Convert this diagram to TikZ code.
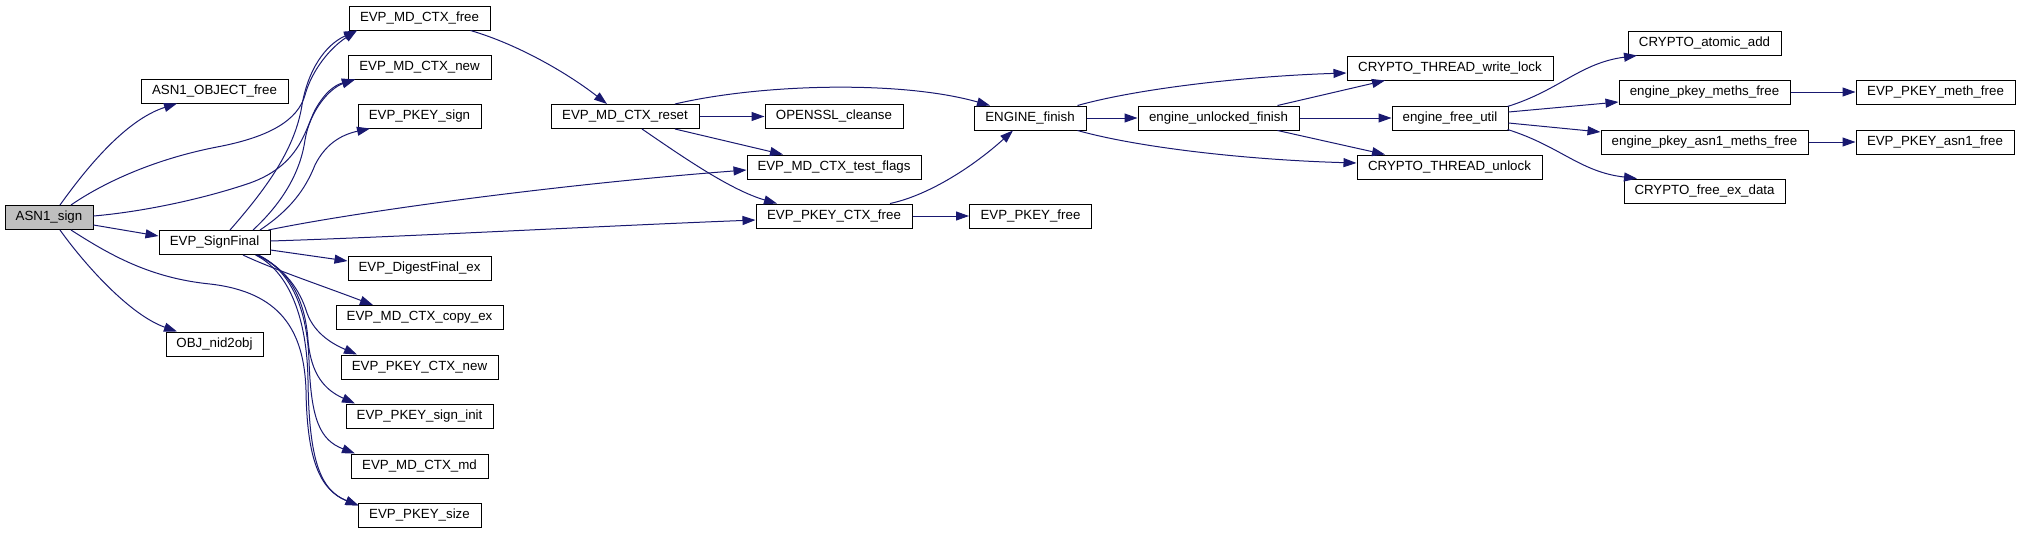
\documentclass[tikz,border=0pt]{standalone}
\usepackage{fontspec}
\setmainfont{Liberation Sans}
\usetikzlibrary{arrows.meta,calc}
\definecolor{edgeblue}{HTML}{191970}
\definecolor{rootgray}{HTML}{BFBFBF}
\begin{document}
\begin{tikzpicture}[x=1pt,y=-1pt,
  fn/.style={draw=black,line width=1pt,fill=white,minimum height=24pt,inner sep=0pt,
    font=\fontsize{13.3}{16}\selectfont},
  call/.style={draw=edgeblue,line width=1pt,-{Triangle[length=13pt,width=9pt]}}]
\useasboundingbox (0,0) rectangle (2020,533);
% nodes
\node[fn,fill=rootgray,minimum width=88pt] (s) at (49,217.5) {ASN1\_sign};
\node[fn,minimum width=147pt] (obj) at (214.5,91) {ASN1\_OBJECT\_free};
\node[fn,minimum width=111pt] (sf) at (214.5,242.5) {EVP\_SignFinal};
\node[fn,minimum width=97pt] (nid) at (214.5,344) {OBJ\_nid2obj};
\node[fn,minimum width=141pt] (mdfree) at (419.5,18) {EVP\_MD\_CTX\_free};
\node[fn,minimum width=143pt] (mdnew) at (419.5,67) {EVP\_MD\_CTX\_new};
\node[fn,minimum width=123pt] (pksign) at (419.5,116) {EVP\_PKEY\_sign};
\node[fn,minimum width=143pt] (dig) at (419.5,268.5) {EVP\_DigestFinal\_ex};
\node[fn,minimum width=167pt] (copy) at (419.5,317.5) {EVP\_MD\_CTX\_copy\_ex};
\node[fn,minimum width=157pt] (pkctxnew) at (419.5,367) {EVP\_PKEY\_CTX\_new};
\node[fn,minimum width=147pt] (init) at (419.5,416) {EVP\_PKEY\_sign\_init};
\node[fn,minimum width=137pt] (md) at (419.5,466) {EVP\_MD\_CTX\_md};
\node[fn,minimum width=123pt] (pksize) at (419.5,515) {EVP\_PKEY\_size};
\node[fn,minimum width=148pt] (reset) at (625,116.5) {EVP\_MD\_CTX\_reset};
\node[fn,minimum width=138pt] (cleanse) at (834,116.5) {OPENSSL\_cleanse};
\node[fn,minimum width=174pt] (tf) at (834,167) {EVP\_MD\_CTX\_test\_flags};
\node[fn,minimum width=156pt] (pkctxfree) at (834,216) {EVP\_PKEY\_CTX\_free};
\node[fn,minimum width=112pt] (ef) at (1030,118) {ENGINE\_finish};
\node[fn,minimum width=122pt] (pkfree) at (1030.5,216) {EVP\_PKEY\_free};
\node[fn,minimum width=161pt] (uf) at (1218.5,118) {engine\_unlocked\_finish};
\node[fn,minimum width=206pt] (wl) at (1450,68) {CRYPTO\_THREAD\_write\_lock};
\node[fn,minimum width=185pt] (ul) at (1449.5,167) {CRYPTO\_THREAD\_unlock};
\node[fn,minimum width=116pt] (fu) at (1450,118) {engine\_free\_util};
\node[fn,minimum width=153pt] (atomic) at (1704.5,43) {CRYPTO\_atomic\_add};
\node[fn,minimum width=171pt] (meths) at (1704.5,92) {engine\_pkey\_meths\_free};
\node[fn,minimum width=207pt] (asnmeths) at (1704.5,142) {engine\_pkey\_asn1\_meths\_free};
\node[fn,minimum width=161pt] (exdata) at (1704.5,191) {CRYPTO\_free\_ex\_data};
\node[fn,minimum width=159pt] (methfree) at (1935.5,92) {EVP\_PKEY\_meth\_free};
\node[fn,minimum width=158pt] (asnfree) at (1935,142) {EVP\_PKEY\_asn1\_free};
% ASN1_sign calls
\draw[call] ($(s.north)+(11,0)$) .. controls (85,170) and (125,120) .. ($(obj.south)+(-37.5,0)$);
\draw[call] ($(s.north)+(22,0)$) .. controls (100,185) and (150,160) .. (217,147)
  .. controls (270,137) and (298,120) .. (305,95)
  .. controls (312,70) and (330,48) .. ($(mdfree.south)+(-62.5,0)$);
\draw[call] ($(s.east)+(0,-1.5)$) .. controls (140,212) and (200,200) .. (250,183)
  .. controls (300,165) and (305,130) .. (315,110)
  .. controls (325,92) and (335,85) .. ($(mdnew.south)+(-64.5,0)$);
\draw[call] ($(s.east)+(0,7.5)$) -- ($(sf.west)+(0,-6.5)$);
\draw[call] ($(s.south)+(11,0)$) .. controls (85,265) and (130,315) .. ($(nid.north)+(-37.5,0)$);
\draw[call] ($(s.south)+(22,0)$) .. controls (110,255) and (150,278) .. (210,284)
  .. controls (280,292) and (304,330) .. (306,390)
  .. controls (307,460) and (320,490) .. ($(pksize.north west)+(1,3)$);
% EVP_SignFinal calls
\draw[call] ($(sf.north)+(15.5,0)$) .. controls (265,190) and (295,150) .. (302,105)
  .. controls (308,70) and (325,45) .. ($(mdfree.south)+(-62.5,0)$);
\draw[call] ($(sf.north)+(38.5,0)$) .. controls (280,205) and (300,175) .. (305,140)
  .. controls (310,110) and (330,88) .. ($(mdnew.south)+(-64.5,0)$);
\draw[call] ($(sf.north)+(45.5,0)$) .. controls (290,210) and (305,190) .. (315,165)
  .. controls (325,145) and (340,135) .. ($(pksign.south)+(-49.5,0)$);
\draw[call] ($(sf.north east)+(-2,0)$) .. controls (350,213) and (550,185) .. ($(tf.west)+(0,3)$);
\draw[call] ($(sf.east)+(0,-1.5)$) .. controls (400,237) and (600,226) .. ($(pkctxfree.west)+(0,4)$);
\draw[call] ($(sf.east)+(0,7.5)$) -- ($(dig.west)+(0,-7.5)$);
\draw[call] ($(sf.south)+(28.5,0)$) .. controls (270,268) and (320,285) .. ($(copy.north)+(-46.5,0)$);
\draw[call] ($(sf.south)+(42,0)$) .. controls (285,268) and (300,290) .. (307,313)
  .. controls (315,335) and (335,345) .. ($(pkctxnew.north)+(-62.5,0)$);
\draw[call] ($(sf.south)+(43,0)$) .. controls (290,270) and (305,300) .. (308,340)
  .. controls (311,375) and (325,390) .. ($(init.north)+(-64.5,0)$);
\draw[call] ($(sf.south)+(44,0)$) .. controls (292,272) and (307,310) .. (309,360)
  .. controls (311,420) and (320,440) .. ($(md.north)+(-64.5,0)$);
\draw[call] ($(sf.south)+(41,0)$) .. controls (290,272) and (307,320) .. (308,380)
  .. controls (309,460) and (320,490) .. ($(pksize.north west)+(1,3)$);
% EVP_MD_CTX_free
\draw[call] ($(mdfree.south east)+(-20,0)$) .. controls (520,45) and (570,75) .. ($(reset.north)+(-18,0)$);
% EVP_MD_CTX_reset
\draw[call] ($(reset.north)+(50,0)$) .. controls (760,84) and (900,80) .. ($(ef.north)+(-40,0)$);
\draw[call] (reset.east) -- (cleanse.west);
\draw[call] ($(reset.south)+(50,0)$) -- ($(tf.north)+(-51,0)$);
\draw[call] ($(reset.south)+(17,0)$) .. controls (680,155) and (730,190) .. ($(pkctxfree.north)+(-57,0)$);
% EVP_PKEY_CTX_free
\draw[call] ($(pkctxfree.north)+(56,0)$) .. controls (930,195) and (975,165) .. ($(ef.south)+(-17,0)$);
\draw[call] (pkctxfree.east) -- (pkfree.west);
% ENGINE_finish
\draw[call] ($(ef.north east)+(-9,0)$) .. controls (1140,88) and (1250,76) .. ($(wl.west)+(0,5)$);
\draw[call] (ef.east) -- (uf.west);
\draw[call] ($(ef.south east)+(-9,0)$) .. controls (1140,148) and (1250,160) .. ($(ul.west)+(0,-4)$);
% engine_unlocked_finish
\draw[call] ($(uf.north east)+(-22,0)$) -- ($(wl.south)+(-65,0)$);
\draw[call] (uf.east) -- (fu.west);
\draw[call] ($(uf.south east)+(-22,0)$) -- ($(ul.north)+(-64.5,0)$);
% engine_free_util
\draw[call] ($(fu.north east)+(-1,1)$) .. controls (1560,90) and (1580,63) .. ($(atomic.south)+(-67.5,0)$);
\draw[call] ($(fu.east)+(0,-6)$) -- ($(meths.west)+(0,10)$);
\draw[call] ($(fu.east)+(0,5)$) -- ($(asnmeths.west)+(0,-10)$);
\draw[call] ($(fu.south east)+(-1,-1)$) .. controls (1560,146) and (1580,172) .. ($(exdata.north)+(-67.5,0)$);
\draw[call] (meths.east) -- (methfree.west);
\draw[call] (asnmeths.east) -- (asnfree.west);
\end{tikzpicture}
\end{document}
